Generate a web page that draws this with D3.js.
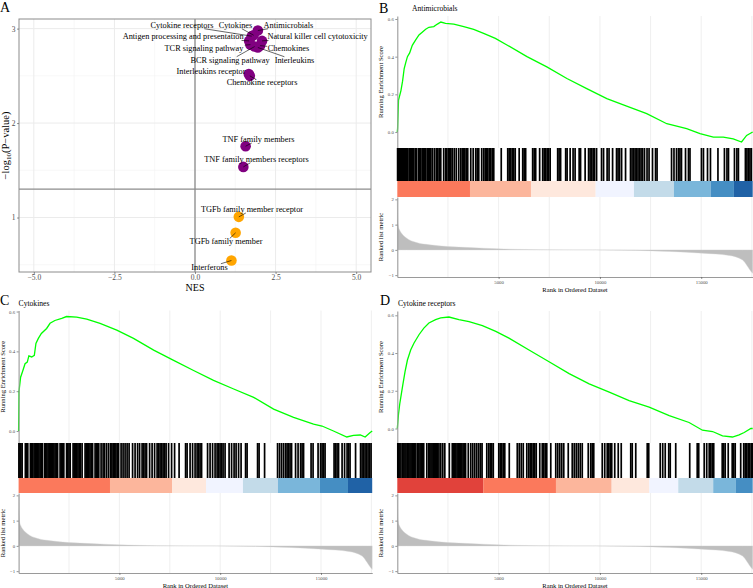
<!DOCTYPE html>
<html>
<head>
<meta charset="utf-8">
<script src="https://cdn.jsdelivr.net/npm/d3@7"></script>
<style>
  body { margin: 0; background: #fff; }
  svg { display: block; }
</style>
</head>
<body>
<svg id="fig" width="753" height="588"></svg>
<script>

// ---------------------------------------------------------------------------
// Panel A data: pathway, NES, -log10(P).
// ---------------------------------------------------------------------------

var pathways = [
  'Antimicrobials', 'Cytokines', 'Cytokine receptors',
  'Antigen processing and presentation', 'Natural killer cell cytotoxicity',
  'TCR signaling pathway', 'Chemokines', 'BCR signaling pathway',
  'Interleukins', 'Interleukins receptor', 'Chemokine receptors',
  'TNF family members', 'TNF family members receptors',
  'TGFb family member receptor', 'TGFb family member', 'Interferons'
];
var nes = [1.95, 1.82, 1.76, 1.68, 2.08, 1.72, 2.02, 1.85, 1.95, 1.67, 1.70,
  1.57, 1.50, 1.36, 1.26, 1.13];
var logP = [2.98, 2.93, 2.92, 2.87, 2.87, 2.83, 2.82, 2.81, 2.80, 2.52, 2.50,
  1.755, 1.536, 1.007, 0.838, 0.545];

var nesTicks = [-5, -2.5, 0, 2.5, 5];
var nesMinor = [-3.75, -1.25, 1.25, 3.75];
var logPTicks = [1, 2, 3];
var logPMinor = [0.5, 1.5, 2.5];

// Label nudges (px) as placed by the repel layout in the reference.
var labelNudge = [
  [30.6, -5.5], [-18.2, -10.2], [-69.7, -11.2], [-66, -4.2], [55.5, -4.2],
  [-46.5, 3.6], [28.4, 2.7], [-24.6, 13.4], [36.6, 12.5], [-37.8, -2.3],
  [12.2, 6.8], [12.9, -6.9], [13.1, -7.9], [13.2, -7.6], [-9.6, 8.9],
  [-21.9, 6.5]
];

// ---------------------------------------------------------------------------
// GSEA data (shared ranked list).
// ---------------------------------------------------------------------------

var nGenes = 17540;
var rankTicks = [5000, 10000, 15000];
var rankGrid = [2500, 5000, 7500, 10000, 12500, 15000, 17500];
var esTicks = [0, 0.2, 0.4, 0.6];
var metricTicks = [-1, 0, 1, 2];

var metricRank = [0, 15, 50, 120, 210, 450, 950, 1600, 2500, 3570, 4960,
  6850, 9800, 11780, 13420, 15060, 16380, 17040, 17290, 17450, 17540];
var metricValue = [1.95, 1.4, 0.95, 0.78, 0.66, 0.47, 0.29, 0.2, 0.13, 0.09,
  0.04, 0.01, 0.0, -0.02, -0.06, -0.13, -0.22, -0.40, -0.66, -0.85, -0.93];

// Antimicrobials
var esRankB = [0, 15, 60, 180, 260, 340, 420, 500, 610, 740, 900, 1070, 1230,
  1400, 1560, 1800, 1980, 2150, 2380, 2790, 3280, 3770, 4260, 4840, 5410,
  6400, 7380, 8370, 9350, 10340, 11320, 12310, 13300, 14280, 14940, 15600,
  16090, 16580, 16990, 17240, 17540];
var esB = [0.0, 0.02, 0.17, 0.22, 0.27, 0.337, 0.37, 0.40, 0.42, 0.46, 0.488,
  0.515, 0.53, 0.546, 0.556, 0.56, 0.573, 0.584, 0.577, 0.573, 0.56, 0.545,
  0.524, 0.497, 0.462, 0.40, 0.346, 0.284, 0.23, 0.177, 0.137, 0.098, 0.044,
  0.018, -0.009, -0.027, -0.027, -0.036, -0.053, -0.018, 0.0];
var hitsB = [15, 50, 100, 150, 200, 250, 295, 370, 420, 470, 520, 590, 640,
  690, 765, 815, 890, 935, 1035, 1110, 1160, 1230, 1280, 1330, 1405, 1480,
  1530, 1580, 1650, 1725, 1825, 1920, 2000, 2070, 2145, 2290, 2390, 2440,
  2515, 2565, 2640, 2710, 2810, 2910, 3030, 3130, 3205, 3255, 3330, 3400,
  3475, 3625, 3745, 3870, 3945, 4020, 4165, 4265, 4340, 4390, 4460, 4535,
  4610, 4685, 4760, 5130, 5450, 5520, 5595, 5670, 5745, 5820, 6015, 6190,
  6260, 6335, 6680, 6755, 6830, 7025, 7175, 7250, 7320, 7395, 7470, 7545,
  7915, 7985, 8060, 8310, 8380, 8530, 8675, 8775, 8975, 9045, 9270, 9440,
  9515, 9590, 9665, 9735, 9835, 10080, 10180, 10355, 10450, 10625, 10820,
  10895, 10970, 11070, 11265, 11510, 11585, 11660, 11735, 11805, 11880,
  11955, 12030, 12105, 12200, 12325, 12425, 12595, 12745, 12820, 13535,
  13655, 13780, 13880, 13950, 14025, 14225, 14370, 14445, 15010, 15110,
  15310, 15455, 15825, 16145, 16270, 16345, 16640, 16760, 16835, 17180,
  17255, 17330, 17405, 17475];
var stripBreakB = [3587, 6597, 9789, 11679, 13652, 15463, 16612];
var stripColorB = ['#FB6A4A', '#FCAE91', '#FEE5D9', '#EFF3FF', '#BDD7E7',
  '#6BAED6', '#3182BD', '#08519C'];

// Cytokines
var esRankC = [0, 20, 100, 200, 320, 430, 510, 650, 780, 860, 980, 1130,
  1390, 1560, 1800, 2140, 2380, 2880, 3380, 4040, 4870, 5700, 6700, 7690,
  8680, 9670, 10670, 11660, 12650, 13640, 14630, 15050, 15620, 16280, 16610,
  16950, 17190, 17440, 17540];
var esC = [0.0, 0.2, 0.27, 0.30, 0.338, 0.346, 0.377, 0.372, 0.38, 0.44,
  0.465, 0.49, 0.515, 0.541, 0.555, 0.566, 0.575, 0.572, 0.562, 0.541, 0.507,
  0.465, 0.406, 0.355, 0.304, 0.254, 0.211, 0.169, 0.11, 0.068, 0.034, 0.025,
  0.0, -0.03, -0.022, -0.02, -0.03, -0.008, 0.0];
var hitsC = [15, 65, 115, 175, 335, 395, 455, 585, 645, 705, 770, 843, 893,
  952, 1007, 1066, 1121, 1180, 1290, 1349, 1404, 1463, 1518, 1577, 1637,
  1696, 1751, 1810, 1870, 1934, 2058, 2118, 2182, 2242, 2381, 2440, 2500,
  2559, 2703, 2763, 2827, 2887, 2946, 3006, 3065, 3150, 3298, 3358, 3422,
  3482, 3541, 3601, 3670, 3794, 3854, 3918, 3978, 4092, 4191, 4266, 4365,
  4464, 4563, 4628, 4692, 4762, 4826, 4891, 4960, 5084, 5183, 5282, 5382,
  5481, 5654, 5778, 5902, 6002, 6126, 6200, 6274, 6349, 6498, 6622, 6746,
  6870, 6944, 7018, 7093, 7167, 7242, 7316, 7440, 7589, 7738, 7961, 8283,
  8358, 8506, 8630, 8754, 8854, 8928, 9002, 9077, 9374, 9498, 9622, 9746,
  9846, 9920, 9994, 10069, 10143, 10242, 10441, 10565, 10689, 10788, 10912,
  11036, 11259, 11334, 11854, 11929, 12202, 12846, 12946, 13045, 13144,
  13243, 13318, 13392, 13466, 13541, 13739, 13863, 13987, 14062, 14136,
  14508, 14607, 14855, 14979, 15054, 15128, 15202, 15649, 15723, 15798,
  15872, 16046, 16170, 16294, 16368, 16442, 16715, 16963, 17038, 17112,
  17186, 17261, 17335, 17410, 17484];
var stripBreakC = [4533, 7609, 9295, 11130, 12866, 14949, 16338];
var stripColorC = ['#FB6A4A', '#FCAE91', '#FEE5D9', '#EFF3FF', '#BDD7E7',
  '#6BAED6', '#3182BD', '#08519C'];

// Cytokine receptors
var esRankD = [0, 60, 120, 200, 280, 380, 500, 660, 820, 1070, 1310, 1560,
  1890, 2140, 2550, 3040, 3540, 4200, 4860, 5510, 6500, 7490, 8480, 9470,
  10460, 11440, 12430, 13420, 14400, 15060, 15560, 16050, 16540, 16870,
  17120, 17450, 17540];
var esD = [0.0, 0.077, 0.13, 0.184, 0.237, 0.30, 0.363, 0.416, 0.452, 0.497,
  0.532, 0.559, 0.577, 0.586, 0.591, 0.577, 0.566, 0.545, 0.515, 0.479,
  0.416, 0.354, 0.291, 0.237, 0.193, 0.148, 0.113, 0.068, 0.032, -0.009,
  -0.016, -0.039, -0.045, -0.034, -0.021, 0.0, 0.0];
var hitsD = [25, 74, 128, 183, 271, 326, 380, 434, 518, 572, 627, 681, 740,
  799, 859, 918, 1011, 1066, 1125, 1184, 1243, 1303, 1456, 1554, 1608, 1663,
  1717, 1776, 1831, 1885, 1939, 1998, 2057, 2146, 2245, 2344, 2566, 2714,
  2773, 2832, 2891, 2951, 3010, 3069, 3128, 3187, 3247, 3306, 3370, 3503,
  3626, 3725, 3824, 3923, 4021, 4110, 4184, 4416, 4515, 4589, 4663, 4737,
  5008, 5082, 5156, 5230, 5304, 5526, 5921, 6019, 6118, 6217, 6390, 6488,
  6562, 6636, 6710, 6784, 6858, 7031, 7154, 7228, 7302, 7376, 7574, 7820,
  7919, 8018, 8116, 8215, 8437, 8634, 8733, 8832, 8931, 9029, 9128, 9424,
  9547, 9621, 9695, 10115, 10238, 10361, 10435, 10509, 10583, 10731, 10904,
  11052, 11521, 11595, 11768, 12335, 12409, 12976, 13099, 13223, 13396,
  13470, 13741, 14432, 14802, 14876, 15147, 15271, 15394, 15468, 15542,
  15616, 16036, 16109, 16183, 16332, 16529, 16603, 16677, 16948, 17096,
  17170, 17244, 17318, 17393, 17467, 17530];
var stripBreakD = [4243, 7830, 10578, 12434, 13865, 15591, 16711];
var stripColorD = ['#DE2D26', '#FB6A4A', '#FCAE91', '#FEE5D9', '#EFF3FF',
  '#BDD7E7', '#6BAED6', '#3182BD'];


var SERIF = '"Liberation Serif", "Times New Roman", serif';
var svg = d3.select('#fig');


/**
 * Pad an extent by 5% on each side, like ggplot's default expansion.
 */
function padded(values) {
  var ext = d3.extent(values);
  var pad = (ext[1] - ext[0]) * 0.05;
  return [ext[0] - pad, ext[1] + pad];
}


/**
 * Apply the small grey tick styling to an axis group.
 */
function styleAxis(sel, size) {
  sel.attr('font-family', SERIF).attr('font-size', size);
  sel.selectAll('.tick text').attr('fill', '#4d4d4d');
  sel.selectAll('.tick line').attr('stroke', '#4d4d4d')
    .attr('stroke-width', 0.6);
}


/**
 * Panel A: NES vs -log10(P) with repelled labels.
 */
function drawVolcano() {

  var box = { left: 19, right: 371, top: 19, bottom: 272 };
  var g = svg.append('g');

  var x = d3.scaleLinear().domain([-5.46, 5.46])
    .range([box.left, box.right]);
  var y = d3.scaleLinear().domain(padded(logP))
    .range([box.bottom, box.top]);

  // Minor and major grid.
  g.selectAll('line.gx-minor').data(nesMinor).join('line')
    .attr('x1', x).attr('x2', x).attr('y1', box.top).attr('y2', box.bottom)
    .attr('stroke', '#f3f3f3').attr('stroke-width', 0.6);
  g.selectAll('line.gy-minor').data(logPMinor).join('line')
    .attr('y1', y).attr('y2', y).attr('x1', box.left).attr('x2', box.right)
    .attr('stroke', '#f3f3f3').attr('stroke-width', 0.6);
  g.selectAll('line.gx').data(nesTicks).join('line')
    .attr('x1', x).attr('x2', x).attr('y1', box.top).attr('y2', box.bottom)
    .attr('stroke', '#ebebeb').attr('stroke-width', 1);
  g.selectAll('line.gy').data(logPTicks).join('line')
    .attr('y1', y).attr('y2', y).attr('x1', box.left).attr('x2', box.right)
    .attr('stroke', '#ebebeb').attr('stroke-width', 1);

  // Reference lines: NES = 0 and P = 0.05.
  g.append('line')
    .attr('x1', x(0)).attr('x2', x(0))
    .attr('y1', box.top).attr('y2', box.bottom)
    .attr('stroke', '#8c8c8c').attr('stroke-width', 1.3);
  g.append('line')
    .attr('y1', y(-Math.log10(0.05))).attr('y2', y(-Math.log10(0.05)))
    .attr('x1', box.left).attr('x2', box.right)
    .attr('stroke', '#8c8c8c').attr('stroke-width', 1.3);

  // Panel border.
  g.append('rect')
    .attr('x', box.left).attr('y', box.top)
    .attr('width', box.right - box.left).attr('height', box.bottom - box.top)
    .attr('fill', 'none').attr('stroke', '#8c8c8c').attr('stroke-width', 1);

  // Axes.
  var ax = g.append('g').attr('transform', 'translate(0,' + box.bottom + ')')
    .call(d3.axisBottom(x).tickValues(nesTicks)
      .tickFormat(d3.format('.1f')).tickSize(2).tickPadding(0.5));
  ax.select('.domain').remove();
  styleAxis(ax, 7.5);

  var ay = g.append('g').attr('transform', 'translate(' + box.left + ',0)')
    .call(d3.axisLeft(y).tickValues(logPTicks).tickFormat(d3.format('d'))
      .tickSize(2).tickPadding(1.5));
  ay.select('.domain').remove();
  styleAxis(ay, 7.5);

  g.append('text')
    .attr('x', x(0)).attr('y', 291)
    .attr('text-anchor', 'middle')
    .attr('font-family', SERIF).attr('font-size', 10)
    .text('NES');

  var yl = g.append('text')
    .attr('transform', 'translate(9,' + (box.top + box.bottom) / 2 +
      ') rotate(-90)')
    .attr('text-anchor', 'middle')
    .attr('font-family', SERIF).attr('font-size', 10.5);
  yl.append('tspan').text('\u2212log');
  yl.append('tspan').attr('font-size', 7).attr('dy', 2).text('10');
  yl.append('tspan').attr('dy', -2).text('(P\u2212value)');

  // Points, significant in purple.
  var idx = d3.range(pathways.length);
  g.selectAll('circle.pt').data(idx).join('circle')
    .attr('cx', function(i) { return x(nes[i]); })
    .attr('cy', function(i) { return y(logP[i]); })
    .attr('r', 5.3)
    .attr('fill', function(i) {
      return logP[i] > -Math.log10(0.05) ? '#800080' : '#FFA500';
    });

  // Labels and their leader segments.
  var segs = g.append('g');
  var labels = g.selectAll('text.lab').data(idx).join('text')
    .attr('x', function(i) { return x(nes[i]) + labelNudge[i][0]; })
    .attr('y', function(i) { return y(logP[i]) + labelNudge[i][1]; })
    .attr('dy', '0.33em')
    .attr('text-anchor', 'middle')
    .attr('font-family', SERIF).attr('font-size', 8.3)
    .text(function(i) { return pathways[i]; });

  labels.each(function(i) {
    var b = this.getBBox();
    var px = x(nes[i]), py = y(logP[i]);
    var cx = b.x + b.width / 2, cy = b.y + b.height / 2;
    var dx = px - cx, dy = py - cy;
    var t = Math.min(
      dx === 0 ? Infinity : (b.width / 2 + 0.5) / Math.abs(dx),
      dy === 0 ? Infinity : (b.height / 2 - 1) / Math.abs(dy)
    );
    if (t >= 1) return;
    var ex = cx + dx * t, ey = cy + dy * t;
    if (Math.hypot(px - ex, py - ey) < 3) return;
    segs.append('line')
      .attr('x1', ex).attr('y1', ey).attr('x2', px).attr('y2', py)
      .attr('stroke', '#000').attr('stroke-width', 0.6);
  });

}


/**
 * One GSEA plot: running score, hit rug, rank colour bar, ranked metric.
 */
function drawGsea(p) {

  var g = svg.append('g');
  var x = d3.scaleLinear().domain([0, nGenes]).range([p.left, p.right]);

  var yEs = d3.scaleLinear().domain(padded(p.es))
    .range([p.rugTop, p.esTop]);
  var yM = d3.scaleLinear().domain(padded(metricValue))
    .range([p.metricBottom, p.metricTop]);

  // Vertical grid in the score and metric panels.
  g.selectAll('line.ges').data(rankGrid).join('line')
    .attr('x1', x).attr('x2', x).attr('y1', p.esTop).attr('y2', p.rugTop)
    .attr('stroke', '#ebebeb').attr('stroke-width', 0.8);
  g.selectAll('line.gm').data(rankGrid).join('line')
    .attr('x1', x).attr('x2', x)
    .attr('y1', p.metricTop).attr('y2', p.metricBottom)
    .attr('stroke', '#ebebeb').attr('stroke-width', 0.8);

  // Running enrichment score.
  var line = d3.line()
    .x(function(i) { return x(p.esRank[i]); })
    .y(function(i) { return yEs(p.es[i]); });
  g.append('path')
    .datum(d3.range(p.es.length))
    .attr('d', line)
    .attr('fill', 'none').attr('stroke', '#00ff00').attr('stroke-width', 1.3);

  var ay = g.append('g').attr('transform', 'translate(' + p.left + ',0)')
    .call(d3.axisLeft(yEs).tickValues(esTicks).tickFormat(d3.format('.1f'))
      .tickSize(2).tickSizeOuter(0).tickPadding(1.5));
  ay.select('.domain').attr('stroke', '#9a9a9a').attr('stroke-width', 1.1);
  styleAxis(ay, 4.8);

  // Hit rug.
  g.selectAll('line.hit').data(p.hits).join('line')
    .attr('x1', x).attr('x2', x).attr('y1', p.rugTop).attr('y2', p.stripTop)
    .attr('stroke', '#000').attr('stroke-width', 1.7);

  // Rank colour bar.
  var edges = [0].concat(p.breaks, [nGenes]);
  g.selectAll('rect.bar').data(p.colors).join('rect')
    .attr('x', function(c, i) { return x(edges[i]); })
    .attr('width', function(c, i) { return x(edges[i + 1]) - x(edges[i]); })
    .attr('y', p.stripTop).attr('height', p.metricTop - p.stripTop)
    .attr('fill', function(c) { return c; }).attr('fill-opacity', 0.9);

  // Ranked list metric.
  var area = d3.area()
    .x(function(i) { return x(metricRank[i]); })
    .y0(yM(0))
    .y1(function(i) { return yM(metricValue[i]); })
    .curve(d3.curveMonotoneX);
  g.append('path')
    .datum(d3.range(metricRank.length))
    .attr('d', area)
    .attr('fill', '#bebebe')
    .attr('stroke', '#d4d4d4').attr('stroke-width', 0.4);

  var my = g.append('g').attr('transform', 'translate(' + p.left + ',0)')
    .call(d3.axisLeft(yM).tickValues(metricTicks).tickFormat(d3.format('d'))
      .tickSize(2).tickSizeOuter(0).tickPadding(1.5));
  my.select('.domain').attr('stroke', '#9a9a9a').attr('stroke-width', 1.1);
  styleAxis(my, 4.8);

  var mx = g.append('g').attr('transform', 'translate(0,' + p.metricBottom + ')')
    .call(d3.axisBottom(x).tickValues(rankTicks).tickFormat(d3.format('d'))
      .tickSize(2).tickSizeOuter(0).tickPadding(1.5));
  mx.select('.domain').attr('stroke', '#9a9a9a').attr('stroke-width', 1.1);
  styleAxis(mx, 4.8);

  // Axis titles.
  g.append('text')
    .attr('transform', 'translate(' + (p.left - 14) + ',' +
      (p.esTop + p.rugTop) / 2 + ') rotate(-90)')
    .attr('text-anchor', 'middle')
    .attr('font-family', SERIF).attr('font-size', 6.6)
    .text('Running Enrichment Score');
  g.append('text')
    .attr('transform', 'translate(' + (p.left - 14) + ',' +
      (p.metricTop + p.metricBottom) / 2 + ') rotate(-90)')
    .attr('text-anchor', 'middle')
    .attr('font-family', SERIF).attr('font-size', 6.6)
    .text('Ranked list metric');
  g.append('text')
    .attr('x', (p.left + p.right) / 2).attr('y', p.metricBottom + 15)
    .attr('text-anchor', 'middle')
    .attr('font-family', SERIF).attr('font-size', 6.6)
    .text('Rank in Ordered Dataset');

  // Title.
  g.append('text')
    .attr('x', p.titleX).attr('y', p.esTop - 5)
    .attr('font-family', SERIF).attr('font-size', 7.6)
    .text(p.title);

}


drawVolcano();

drawGsea({
  title: 'Antimicrobials', es: esB, esRank: esRankB, hits: hitsB,
  breaks: stripBreakB, colors: stripColorB,
  left: 397.3, right: 752.7, titleX: 412,
  esTop: 16, rugTop: 148, stripTop: 181, metricTop: 197, metricBottom: 277
});

drawGsea({
  title: 'Cytokines', es: esC, esRank: esRankC, hits: hitsC,
  breaks: stripBreakC, colors: stripColorC,
  left: 18.6, right: 372.2, titleX: 18.6,
  esTop: 310.5, rugTop: 443, stripTop: 478, metricTop: 493, metricBottom: 573
});

drawGsea({
  title: 'Cytokine receptors', es: esD, esRank: esRankD, hits: hitsD,
  breaks: stripBreakD, colors: stripColorD,
  left: 397.3, right: 752.7, titleX: 398,
  esTop: 311, rugTop: 443, stripTop: 478, metricTop: 493, metricBottom: 573
});

// Panel letters.
var letters = [['A', 0, 11.5], ['B', 379, 12.5], ['C', 0, 305], ['D', 380, 305]];
svg.selectAll('text.letter').data(letters).join('text')
  .attr('x', function(d) { return d[1]; })
  .attr('y', function(d) { return d[2]; })
  .attr('font-family', SERIF).attr('font-size', 14)
  .text(function(d) { return d[0]; });

</script>
</body>
</html>
